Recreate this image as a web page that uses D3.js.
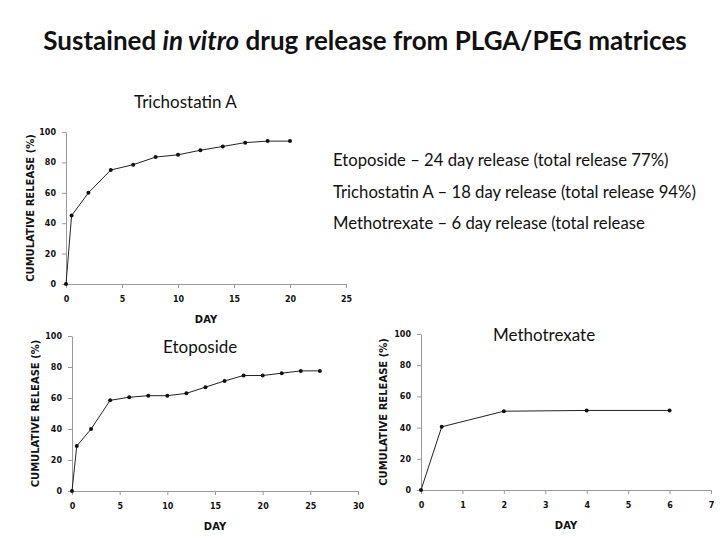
<!DOCTYPE html>
<html>
<head>
<meta charset="utf-8">
<script src="https://cdn.jsdelivr.net/npm/d3@7"></script>
<style>
  body { margin: 0; background: #fff; }
  text { fill: #111; }
</style>
</head>
<body>
<div id="graph"></div>
<script>
let width = 720, height = 540;

// Data
let tsaDays = [0, 0.5, 2, 4, 6, 8, 10, 12, 14, 16, 18, 20];
let tsaRelease = [0, 45, 60, 75, 78.5, 83.5, 85, 88, 90.5, 93, 94, 94];

let etoDays = [0, 0.5, 2, 4, 6, 8, 10, 12, 14, 16, 18, 20, 22, 24, 26];
let etoRelease = [0, 29, 40, 58.5, 60.5, 61.5, 61.5, 63, 67, 71, 74.5, 74.5, 76, 77.5, 77.5];

let mtxDays = [0, 0.5, 2, 4, 6];
let mtxRelease = [0, 40.5, 50.5, 51, 51];

let tsaTicks = [0, 5, 10, 15, 20, 25];
let etoTicks = [0, 5, 10, 15, 20, 25, 30];
let mtxTicks = [0, 1, 2, 3, 4, 5, 6, 7];
let yTicks = [0, 20, 40, 60, 80, 100];

let notes = [
  "Etoposide \u2013 24 day release (total release 77%)",
  "Trichostatin A \u2013 18 day release (total release 94%)",
  "Methotrexate \u2013 6 day release (total release"
];

let svg = d3.select("#graph").append("svg")
    .attr("width", width)
    .attr("height", height);

// Title
let title = svg.append("text")
  .attr("x", 365)
  .attr("y", 50)
  .attr("text-anchor", "middle")
  .style("font-family", "Lato, 'Open Sans', sans-serif")
  .style("font-size", "26px")
  .style("font-weight", "bold");
title.append("tspan").text("Sustained ");
title.append("tspan").style("font-style", "italic").text("in vitro");
title.append("tspan").text(" drug release from PLGA/PEG matrices");

function drawPanel(p) {
  let x = d3.scaleLinear().domain([0, p.ticks[p.ticks.length - 1]]).range([p.x0, p.x1]);
  let y = d3.scaleLinear().domain([0, 100]).range([p.y0, p.y1]);
  let g = svg.append("g");

  let xAxis = g.append("g")
    .attr("transform", "translate(0," + p.y0 + ")")
    .call(d3.axisBottom(x).tickValues(p.ticks).tickFormat(d3.format("d"))
      .tickSize(4).tickSizeOuter(0).tickPadding(8));
  let yAxis = g.append("g")
    .attr("transform", "translate(" + p.x0 + ",0)")
    .call(d3.axisLeft(y).tickValues(yTicks).tickSize(4).tickSizeOuter(0).tickPadding(6));

  [xAxis, yAxis].forEach(a => {
    a.select(".domain").attr("stroke", "#9a9a9a");
    a.selectAll(".tick line").attr("stroke", "#9a9a9a");
    a.selectAll(".tick text")
      .style("font-family", "'DejaVu Sans', sans-serif")
      .style("font-size", "8px")
      .style("font-weight", "bold")
      .attr("fill", "#111");
  });

  // axis titles
  g.append("text")
    .attr("x", (p.x0 + p.x1) / 2)
    .attr("y", p.y0 + 39)
    .attr("text-anchor", "middle")
    .style("font-family", "'DejaVu Sans', sans-serif")
    .style("font-size", "10px")
    .style("font-weight", "bold")
    .text("DAY");
  g.append("text")
    .attr("transform", "translate(" + p.ytx + "," + ((p.y0 + p.y1) / 2) + ") rotate(-90)")
    .attr("text-anchor", "middle")
    .style("font-family", "'DejaVu Sans', sans-serif")
    .style("font-size", "10px")
    .style("font-weight", "bold")
    .text("CUMULATIVE RELEASE (%)");

  let pts = p.days.map((d, i) => [d, p.values[i]]);
  let line = d3.line().x(d => x(d[0])).y(d => y(d[1]));
  g.append("path")
    .attr("d", line(pts))
    .attr("fill", "none")
    .attr("stroke", "#222")
    .attr("stroke-width", 1);
  g.selectAll("circle.pt")
    .data(pts)
    .enter().append("circle")
    .attr("class", "pt")
    .attr("cx", d => x(d[0]))
    .attr("cy", d => y(d[1]))
    .attr("r", 2)
    .attr("fill", "#111");

  if (p.label) {
    g.append("text")
      .attr("x", p.label[0])
      .attr("y", p.label[1])
      .style("font-family", "Lato, 'Open Sans', sans-serif")
      .style("font-size", "17px")
      .text(p.name);
  }
}

drawPanel({ name: "Trichostatin A", days: tsaDays, values: tsaRelease, ticks: tsaTicks,
  x0: 66, x1: 346, y0: 284, y1: 132, ytx: 34, label: null });
drawPanel({ name: "Etoposide", days: etoDays, values: etoRelease, ticks: etoTicks,
  x0: 72, x1: 358, y0: 491, y1: 336, ytx: 39, label: [163, 353] });
drawPanel({ name: "Methotrexate", days: mtxDays, values: mtxRelease, ticks: mtxTicks,
  x0: 421, x1: 711, y0: 490, y1: 334, ytx: 387, label: [493, 341] });

// panel heading of the first chart
svg.append("text")
  .attr("x", 134)
  .attr("y", 108)
  .style("font-family", "Lato, 'Open Sans', sans-serif")
  .style("font-size", "17px")
  .text("Trichostatin A");

// notes on the right
svg.selectAll("text.note")
  .data(notes)
  .enter().append("text")
  .attr("class", "note")
  .attr("x", 333)
  .attr("y", (d, i) => 166 + i * 31.5)
  .style("font-family", "Lato, 'Open Sans', sans-serif")
  .style("font-size", "16.7px")
  .text(d => d);
</script>
</body>
</html>
